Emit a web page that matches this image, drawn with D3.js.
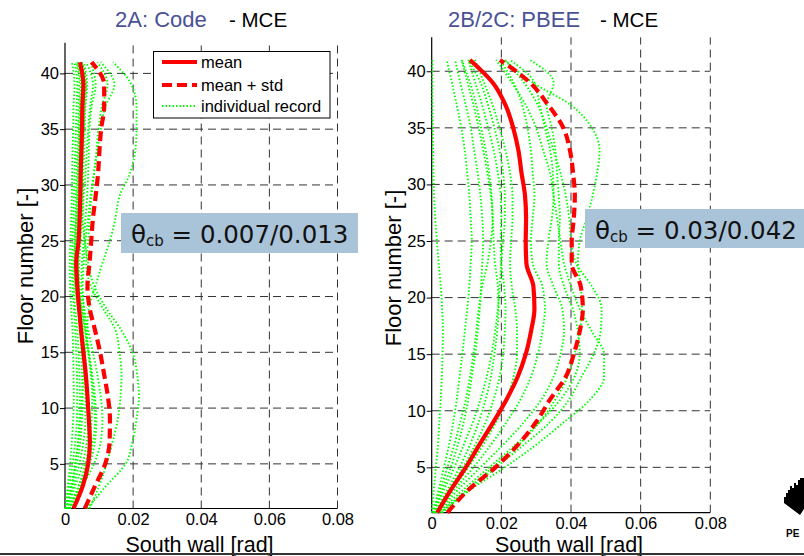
<!DOCTYPE html>
<html>
<head>
<meta charset="utf-8">
<script src="https://cdn.jsdelivr.net/npm/d3@7"></script>
<style>
  html, body { margin: 0; padding: 0; background: #fff; }
  svg { display: block; font-family: "Liberation Sans", Arial, sans-serif; }
</style>
</head>
<body>
<svg id="chart" width="804" height="556"></svg>
<script>
// Floors at which drifts are sampled
const floors = [1, 3, 5, 7, 9, 11, 13, 15, 17, 19, 21, 23, 25, 27, 29, 31, 33, 35, 37, 39, 41];

// 2A: Code design, MCE — south wall drift [rad]
const codeMean = [0.0025, 0.0052, 0.0068, 0.0073, 0.0070, 0.0066, 0.0061, 0.0054, 0.0047, 0.0041, 0.0036,
                  0.0033, 0.0040, 0.0043, 0.0045, 0.0046, 0.0048, 0.0050, 0.0051, 0.0054, 0.0044];
const codeMeanStd = [0.0058, 0.0088, 0.0118, 0.0131, 0.0132, 0.0126, 0.0115, 0.0103, 0.0088, 0.0072, 0.0066,
                     0.0072, 0.0077, 0.0082, 0.0090, 0.0097, 0.0101, 0.0106, 0.0115, 0.0115, 0.0078];
const codeRecords = [
  [0.0005, 0.0020, 0.0030, 0.0040, 0.0045, 0.0050, 0.0055, 0.0060, 0.0065, 0.0070, 0.0090, 0.0110, 0.0132, 0.0148, 0.0160, 0.0190, 0.0206, 0.0210, 0.0210, 0.0195, 0.0141],
  [0.0065, 0.0120, 0.0178, 0.0198, 0.0210, 0.0217, 0.0212, 0.0198, 0.0165, 0.0120, 0.0085, 0.0068, 0.0058, 0.0052, 0.0055, 0.0060, 0.0064, 0.0068, 0.0074, 0.0082, 0.0062],
  [0.0072, 0.0100, 0.0122, 0.0140, 0.0155, 0.0163, 0.0166, 0.0160, 0.0148, 0.0110, 0.0075, 0.0062, 0.0068, 0.0072, 0.0078, 0.0085, 0.0092, 0.0098, 0.0108, 0.0125, 0.0095],
  [0.0012, 0.0040, 0.0065, 0.0082, 0.0088, 0.0085, 0.0078, 0.0070, 0.0062, 0.0055, 0.0052, 0.0055, 0.0060, 0.0068, 0.0075, 0.0085, 0.0095, 0.0105, 0.0118, 0.0145, 0.0105],
  [0.0005, 0.0020, 0.0035, 0.0045, 0.0050, 0.0052, 0.0050, 0.0048, 0.0045, 0.0040, 0.0032, 0.0030, 0.0032, 0.0035, 0.0038, 0.0040, 0.0042, 0.0044, 0.0046, 0.0050, 0.0040],
  [0.0002, 0.0012, 0.0022, 0.0030, 0.0035, 0.0036, 0.0035, 0.0033, 0.0030, 0.0026, 0.0022, 0.0020, 0.0022, 0.0024, 0.0026, 0.0028, 0.0030, 0.0032, 0.0034, 0.0036, 0.0028],
  [0.0010, 0.0040, 0.0060, 0.0072, 0.0078, 0.0080, 0.0076, 0.0068, 0.0058, 0.0048, 0.0040, 0.0042, 0.0046, 0.0050, 0.0052, 0.0054, 0.0056, 0.0058, 0.0060, 0.0065, 0.0055],
  [0.0001, 0.0008, 0.0015, 0.0020, 0.0024, 0.0026, 0.0025, 0.0024, 0.0022, 0.0018, 0.0015, 0.0014, 0.0016, 0.0018, 0.0020, 0.0021, 0.0022, 0.0024, 0.0025, 0.0028, 0.0020],
  [0.0015, 0.0045, 0.0072, 0.0088, 0.0092, 0.0088, 0.0080, 0.0070, 0.0060, 0.0050, 0.0042, 0.0038, 0.0040, 0.0044, 0.0048, 0.0050, 0.0052, 0.0055, 0.0058, 0.0062, 0.0050],
  [0.0003, 0.0018, 0.0030, 0.0038, 0.0042, 0.0044, 0.0042, 0.0040, 0.0036, 0.0030, 0.0026, 0.0025, 0.0028, 0.0030, 0.0032, 0.0034, 0.0036, 0.0038, 0.0040, 0.0042, 0.0034],
  [0.0008, 0.0030, 0.0052, 0.0064, 0.0068, 0.0068, 0.0064, 0.0058, 0.0052, 0.0044, 0.0036, 0.0034, 0.0036, 0.0040, 0.0042, 0.0044, 0.0046, 0.0048, 0.0052, 0.0058, 0.0048],
  [0.0004, 0.0025, 0.0042, 0.0054, 0.0060, 0.0060, 0.0058, 0.0054, 0.0048, 0.0038, 0.0030, 0.0028, 0.0030, 0.0033, 0.0036, 0.0038, 0.0040, 0.0042, 0.0044, 0.0046, 0.0036],
  [0.0012, 0.0050, 0.0085, 0.0105, 0.0110, 0.0105, 0.0095, 0.0082, 0.0068, 0.0056, 0.0048, 0.0050, 0.0055, 0.0060, 0.0065, 0.0068, 0.0070, 0.0072, 0.0078, 0.0090, 0.0075]
];

// 2B/2C: PBEE design, MCE — south wall drift [rad]
const pbeeMean = [0.0016, 0.0055, 0.0098, 0.0137, 0.0177, 0.0215, 0.0247, 0.0270, 0.0285, 0.0295, 0.0292,
                  0.0272, 0.0270, 0.0271, 0.0268, 0.0258, 0.0249, 0.0234, 0.0212, 0.0175, 0.0110];
const pbeeMeanStd = [0.0045, 0.0105, 0.0183, 0.0248, 0.0300, 0.0340, 0.0385, 0.0408, 0.0425, 0.0434, 0.0428,
                     0.0402, 0.0402, 0.0408, 0.0411, 0.0406, 0.0397, 0.0378, 0.0335, 0.0282, 0.0196];
const pbeeRecords = [
  [0.0000, 0.0006, 0.0012, 0.0018, 0.0022, 0.0026, 0.0029, 0.0031, 0.0032, 0.0030, 0.0026, 0.0020, 0.0015, 0.0010, 0.0007, 0.0005, 0.0004, 0.0003, 0.0002, 0.0002, 0.0002],
  [0.0003, 0.0020, 0.0035, 0.0050, 0.0062, 0.0072, 0.0080, 0.0088, 0.0095, 0.0102, 0.0108, 0.0112, 0.0115, 0.0112, 0.0108, 0.0102, 0.0095, 0.0085, 0.0072, 0.0058, 0.0043],
  [0.0005, 0.0030, 0.0055, 0.0075, 0.0092, 0.0105, 0.0115, 0.0125, 0.0132, 0.0138, 0.0142, 0.0145, 0.0148, 0.0145, 0.0140, 0.0132, 0.0122, 0.0112, 0.0098, 0.0082, 0.0067],
  [0.0008, 0.0045, 0.0080, 0.0110, 0.0135, 0.0155, 0.0170, 0.0180, 0.0188, 0.0192, 0.0190, 0.0182, 0.0178, 0.0175, 0.0170, 0.0160, 0.0148, 0.0135, 0.0120, 0.0103, 0.0086],
  [0.0010, 0.0050, 0.0090, 0.0125, 0.0155, 0.0178, 0.0195, 0.0205, 0.0210, 0.0212, 0.0208, 0.0200, 0.0198, 0.0200, 0.0198, 0.0190, 0.0178, 0.0162, 0.0145, 0.0125, 0.0105],
  [0.0012, 0.0058, 0.0105, 0.0148, 0.0185, 0.0215, 0.0235, 0.0245, 0.0245, 0.0240, 0.0230, 0.0225, 0.0228, 0.0232, 0.0232, 0.0225, 0.0212, 0.0195, 0.0175, 0.0150, 0.0124],
  [0.0015, 0.0065, 0.0120, 0.0170, 0.0215, 0.0255, 0.0285, 0.0305, 0.0318, 0.0325, 0.0318, 0.0290, 0.0285, 0.0290, 0.0295, 0.0290, 0.0285, 0.0275, 0.0260, 0.0235, 0.0196],
  [0.0018, 0.0075, 0.0140, 0.0205, 0.0265, 0.0315, 0.0350, 0.0370, 0.0380, 0.0375, 0.0350, 0.0330, 0.0335, 0.0345, 0.0350, 0.0348, 0.0340, 0.0325, 0.0310, 0.0295, 0.0225],
  [0.0020, 0.0090, 0.0165, 0.0240, 0.0310, 0.0370, 0.0410, 0.0425, 0.0420, 0.0405, 0.0380, 0.0365, 0.0365, 0.0368, 0.0365, 0.0360, 0.0355, 0.0345, 0.0330, 0.0350, 0.0282],
  [0.0025, 0.0100, 0.0175, 0.0250, 0.0310, 0.0355, 0.0390, 0.0410, 0.0425, 0.0432, 0.0428, 0.0420, 0.0425, 0.0445, 0.0462, 0.0475, 0.0482, 0.0460, 0.0400, 0.0290, 0.0210],
  [0.0030, 0.0110, 0.0210, 0.0300, 0.0380, 0.0455, 0.0495, 0.0495, 0.0460, 0.0425, 0.0400, 0.0380, 0.0370, 0.0360, 0.0350, 0.0340, 0.0320, 0.0300, 0.0270, 0.0230, 0.0185],
  [0.0028, 0.0105, 0.0185, 0.0265, 0.0340, 0.0395, 0.0430, 0.0465, 0.0485, 0.0488, 0.0460, 0.0415, 0.0400, 0.0395, 0.0385, 0.0370, 0.0350, 0.0330, 0.0305, 0.0265, 0.0210],
  [0.0006, 0.0035, 0.0065, 0.0092, 0.0118, 0.0140, 0.0158, 0.0172, 0.0182, 0.0190, 0.0195, 0.0200, 0.0205, 0.0210, 0.0210, 0.0205, 0.0195, 0.0180, 0.0162, 0.0140, 0.0105],
  [0.0004, 0.0025, 0.0045, 0.0065, 0.0082, 0.0098, 0.0110, 0.0120, 0.0128, 0.0135, 0.0145, 0.0160, 0.0170, 0.0175, 0.0172, 0.0165, 0.0155, 0.0142, 0.0128, 0.0110, 0.0086]
];

const xTicks = [0, 0.02, 0.04, 0.06, 0.08];
const xTickLabels = ["0", "0.02", "0.04", "0.06", "0.08"];
const yTicks = [5, 10, 15, 20, 25, 30, 35, 40];
const panelTitles = ["2A: Code", "2B/2C: PBEE"];
const panelSubtitle = "- MCE";
const thetaValues = ["0.007/0.013", "0.03/0.042"];
const legendLabels = ["mean", "mean + std", "individual record"];
const xLabel = "South wall [rad]";
const yLabel = "Floor number [-]";

// Layout of each panel (pixel geometry only)
const panels = [
  { mean: codeMean, meanStd: codeMeanStd, records: codeRecords,
    left: 65, right: 337.5, bottom: 508.5, top: 42.7, topFloor: 42.75,
    titleX: 115, subX: 229, xLabelX: 199.5, yLabelX: 33, yLabelY: 266,
    box: { x: 121, y: 213, w: 237, h: 40, tx: 131, ty: 243 }, legend: true },
  { mean: pbeeMean, meanStd: pbeeMeanStd, records: pbeeRecords,
    left: 431.7, right: 710.3, bottom: 512.6, top: 37.3, topFloor: 43,
    titleX: 448, subX: 600, xLabelX: 569, yLabelX: 401, yLabelY: 268,
    box: { x: 585, y: 209, w: 222, h: 39, tx: 595, ty: 239 }, legend: false }
];

const svg = d3.select("#chart");
const gridColor = "#333";
const dotted = "1.5,2";

panels.forEach((p, i) => {
  const x = d3.scaleLinear().domain([0, 0.08]).range([p.left, p.right]);
  const y = d3.scaleLinear().domain([1, p.topFloor]).range([p.bottom, p.top]);
  const g = svg.append("g");

  // grid
  g.append("g").selectAll("line").data(xTicks.slice(1)).join("line")
    .attr("x1", d => x(d)).attr("x2", d => x(d))
    .attr("y1", y(1)).attr("y2", y(p.topFloor))
    .attr("stroke", gridColor).attr("stroke-width", 1).attr("stroke-dasharray", "8,5");
  g.append("g").selectAll("line").data(yTicks).join("line")
    .attr("x1", x(0)).attr("x2", x(0.08))
    .attr("y1", d => y(d)).attr("y2", d => y(d))
    .attr("stroke", gridColor).attr("stroke-width", 1).attr("stroke-dasharray", "8,5");

  // axes
  const xAxis = d3.axisBottom(x).tickValues(xTicks)
    .tickFormat((d, k) => xTickLabels[k]).tickSize(0).tickPadding(5);
  const gx = g.append("g").attr("transform", `translate(0,${y(1)})`).call(xAxis);
  gx.select(".domain").remove();
  gx.selectAll("text").attr("fill", "#000")
    .style("font-size", "16.5px").style("font-family", '"Liberation Sans", Arial, sans-serif');

  const yAxis = d3.axisLeft(y).tickValues(yTicks).tickSize(5).tickPadding(1);
  const gy = g.append("g").attr("transform", `translate(${x(0)},0)`).call(yAxis);
  gy.select(".domain").remove();
  gy.selectAll(".tick line").attr("stroke", "#000");
  gy.selectAll("text").attr("fill", "#000")
    .style("font-size", "16.5px").style("font-family", '"Liberation Sans", Arial, sans-serif');

  g.append("line").attr("x1", x(0)).attr("x2", x(0))
    .attr("y1", y(1)).attr("y2", y(p.topFloor)).attr("stroke", "#000").attr("stroke-width", 1.2);
  g.append("line").attr("x1", x(0)).attr("x2", x(0.08))
    .attr("y1", y(1)).attr("y2", y(1)).attr("stroke", "#000").attr("stroke-width", 1.2);

  // drift profiles
  const line = d3.line().x(d => x(d[0])).y(d => y(d[1])).curve(d3.curveMonotoneY);
  const toPts = arr => arr.map((v, k) => [v, floors[k]]);

  g.append("g").selectAll("path").data(p.records).join("path")
    .attr("d", r => line(toPts(r)))
    .attr("fill", "none").attr("stroke", "#00ff00").attr("stroke-width", 1.9)
    .attr("stroke-dasharray", dotted);

  g.append("path").attr("d", line(toPts(p.meanStd)))
    .attr("fill", "none").attr("stroke", "#ff0000").attr("stroke-width", 4.2)
    .attr("stroke-dasharray", "10,5");
  g.append("path").attr("d", line(toPts(p.mean)))
    .attr("fill", "none").attr("stroke", "#ff0000").attr("stroke-width", 4.2);

  // titles
  g.append("text").attr("x", p.titleX).attr("y", 27).style("font-size", "22px")
    .attr("fill", "#4a5297").text(panelTitles[i]);
  g.append("text").attr("x", p.subX).attr("y", 27).style("font-size", "20.5px")
    .attr("fill", "#000").text(panelSubtitle);

  // axis labels
  g.append("text").attr("x", p.xLabelX).attr("y", 552).style("font-size", "21.5px")
    .attr("text-anchor", "middle").attr("fill", "#000").text(xLabel);
  g.append("text").attr("transform", `translate(${p.yLabelX},${p.yLabelY}) rotate(-90)`)
    .style("font-size", "22px").attr("text-anchor", "middle").attr("fill", "#000").text(yLabel);

  // capping-beam rotation annotation
  g.append("rect").attr("x", p.box.x).attr("y", p.box.y)
    .attr("width", p.box.w).attr("height", p.box.h).attr("fill", "#a9c3d9");
  const t = g.append("text").attr("x", p.box.tx).attr("y", p.box.ty)
    .style("font-family", '"DejaVu Sans", Verdana, sans-serif').style("font-size", "24.5px")
    .attr("fill", "#111");
  t.append("tspan").text("θ");
  t.append("tspan").style("font-size", "15px").attr("dy", 3).text("cb");
  t.append("tspan").attr("dy", -3).text(" = " + thetaValues[i]);

  // legend
  if (p.legend) {
    const lg = g.append("g");
    lg.append("rect").attr("x", 153.5).attr("y", 51.5).attr("width", 176.5).attr("height", 66.5)
      .attr("fill", "#fff").attr("stroke", "#000").attr("stroke-width", 1);
    const styles = [
      { dash: null, w: 4.2, color: "#ff0000" },
      { dash: "10,5", w: 4.2, color: "#ff0000" },
      { dash: dotted, w: 1.9, color: "#00ff00" }
    ];
    const rowY = [62, 85, 106];
    legendLabels.forEach((lab, k) => {
      lg.append("line").attr("x1", 162).attr("x2", 197).attr("y1", rowY[k]).attr("y2", rowY[k])
        .attr("stroke", styles[k].color).attr("stroke-width", styles[k].w)
        .attr("stroke-dasharray", styles[k].dash);
      lg.append("text").attr("x", 201).attr("y", rowY[k] + 6).style("font-size", "16.5px")
        .attr("fill", "#000").text(lab);
    });
  }
});

// slide footer rule and logo
svg.append("line").attr("x1", 0).attr("x2", 804).attr("y1", 554).attr("y2", 554)
  .attr("stroke", "#333").attr("stroke-width", 2);
svg.append("path")
  .attr("d", "M784,503 L784,497 L786,497 L786,493 L788,493 L788,490 L790,490 L790,486 L792,486 L792,488 L794,488 L794,483 L796,483 L796,485 L798,485 L798,480 L800,480 L800,478 L804,478 L804,509 L800,515 Z")
  .attr("fill", "#000");
svg.append("text").attr("x", 786).attr("y", 537).style("font-size", "10px").style("font-weight", "bold")
  .attr("fill", "#000").text("PE");
</script>
</body>
</html>
